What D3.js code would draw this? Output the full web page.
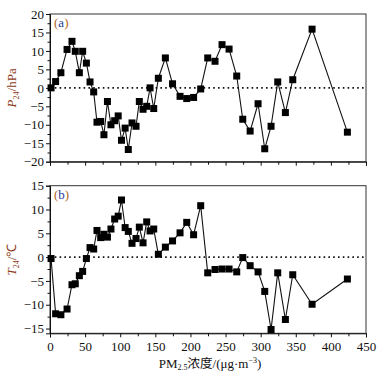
<!DOCTYPE html>
<html><head><meta charset="utf-8">
<script src="https://cdn.jsdelivr.net/npm/d3@7"></script>
<style>
html,body{margin:0;padding:0;background:#fff;}
svg{display:block;}
text{font-family:"Liberation Serif","Times New Roman",serif;}
</style></head>
<body>
<svg id="chart" width="389" height="377"></svg>
<script>
// PM2.5 concentration bins (shared by both panels)
const pm25 = [1.5, 8, 15.5, 24.3, 31.3, 36, 41.8, 46.5, 51.8, 57, 62.2, 66.9, 72.2, 76.8, 81.8, 86.8, 92.1, 97.1, 101.8, 107, 111.5, 116.8, 122.5, 127.2, 132.5, 137.7, 142.5, 147.7, 154.3, 164.3, 174.5, 185.2, 194.7, 204.5, 214.6, 224.6, 235, 245, 255, 265.9, 274.5, 285, 296.3, 305.8, 314.8, 324.3, 335.2, 345.7, 373.2, 423.5];
// Panel (a): P24 / hPa
const p24 = [0, 1.7, 4.1, 10.4, 12.6, 9.9, 4.1, 9.9, 6.7, 1.6, -1.1, -9.3, -9.1, -12.7, -3.7, -10, -8.9, -7.6, -14.2, -10.9, -16.7, -9.5, -10.4, -3.7, -5.8, -5.0, 0, -5.6, 2.6, 8.1, 1.1, -2.3, -2.9, -2.6, -0.3, 8.1, 7.2, 11.7, 10.5, 3.2, -8.5, -11.7, -4.3, -16.5, -10.4, 1.6, -6.7, 2.2, 15.9, -12.0];
// Panel (b): T24 / °C
const t24 = [-0.3, -11.9, -12.1, -10.9, -5.8, -5.6, -3.9, -3.0, -0.3, 2.0, 1.7, 5.6, 4.1, 4.8, 4.2, 5.9, 8.0, 8.6, 12.0, 6.2, 5.4, 2.9, 3.9, 6.3, 3.0, 7.4, 5.5, 5.9, 0.6, 2.1, 3.4, 5.1, 7.3, 4.7, 10.8, -3.3, -2.6, -2.5, -2.5, -3.1, -0.1, -1.8, -3.1, -7.2, -15.2, -3.3, -13.1, -3.7, -9.9, -4.6];
const xTicks = [0, 50, 100, 150, 200, 250, 300, 350, 400, 450];
const pTicks = [-20, -15, -10, -5, 0, 5, 10, 15, 20];
const tTicks = [-15, -10, -5, 0, 5, 10, 15];

const svg = d3.select("#chart");
const L = 50, R = 366;
const x = d3.scaleLinear().domain([0, 450]).range([L, R]);
const minorX = d3.range(0, 451, 25);

function fmt(v){ return v < 0 ? "\u2212" + Math.abs(v) : String(v); }

function panel(cfg){
  const y = d3.scaleLinear().domain(cfg.domain).range([cfg.bottom, cfg.top]);
  const g = svg.append("g");
  // frame
  g.append("rect").attr("x", L).attr("y", cfg.top).attr("width", R - L).attr("height", cfg.bottom - cfg.top)
    .attr("fill", "none").attr("stroke", "#333").attr("stroke-width", 1);
  // y axis major
  const ya = g.append("g").attr("transform", `translate(${L},0)`)
    .call(d3.axisLeft(y).tickValues(cfg.ticks).tickSize(4).tickPadding(2).tickFormat(fmt));
  ya.select(".domain").attr("stroke", "#111");
  ya.selectAll("text").attr("font-size", 13).attr("font-family", "Liberation Serif").attr("fill", "#111");
  ya.selectAll(".tick line").attr("stroke", "#111");
  // y minor
  const minorY = d3.range(cfg.domain[0] < cfg.ticks[0] ? cfg.ticks[0] : cfg.domain[0], cfg.domain[1] + 0.01, 2.5)
    .filter(v => !cfg.ticks.includes(v));
  g.append("g").attr("transform", `translate(${L},0)`)
    .call(d3.axisLeft(y).tickValues(minorY).tickSize(2.5).tickFormat(""))
    .call(s => s.select(".domain").remove())
    .selectAll("line").attr("stroke", "#111");
  // x axis
  const xa = g.append("g").attr("transform", `translate(0,${cfg.bottom})`)
    .call(d3.axisBottom(x).tickValues(xTicks).tickSize(4).tickPadding(4).tickFormat(cfg.xLabels ? d3.format("d") : ""));
  xa.select(".domain").attr("stroke", "#111");
  xa.selectAll("text").attr("font-size", 13).attr("font-family", "Liberation Serif").attr("fill", "#111");
  xa.selectAll(".tick line").attr("stroke", "#111");
  g.append("g").attr("transform", `translate(0,${cfg.bottom})`)
    .call(d3.axisBottom(x).tickValues(minorX.filter(v => !xTicks.includes(v))).tickSize(3).tickFormat(""))
    .call(s => s.select(".domain").remove())
    .selectAll("line").attr("stroke", "#111");
  // zero line
  g.append("line").attr("x1", L).attr("x2", R).attr("y1", y(0)).attr("y2", y(0))
    .attr("stroke", "#111").attr("stroke-width", 1.6).attr("stroke-dasharray", "1.6,3.2");
  // data line
  const data = pm25.map((v, i) => [v, cfg.values[i]]);
  g.append("path").datum(data)
    .attr("d", d3.line().x(d => x(d[0])).y(d => y(d[1])))
    .attr("fill", "none").attr("stroke", "#111").attr("stroke-width", 1.1);
  g.selectAll("rect.pt").data(data).enter().append("rect").attr("class", "pt")
    .attr("x", d => x(d[0]) - 3.5).attr("y", d => y(d[1]) - 3.5)
    .attr("width", 7).attr("height", 7).attr("fill", "#000");
  // panel letter
  const lt = g.append("text").attr("x", L + 4).attr("y", cfg.top + 13).attr("font-size", 13);
  lt.append("tspan").attr("fill", "#b5651d").text("(");
  lt.append("tspan").attr("fill", "#1f3a93").text(cfg.letter);
  lt.append("tspan").attr("fill", "#b5651d").text(")");
  // y label
  const cy = (cfg.top + cfg.bottom) / 2;
  const yl = g.append("text").attr("transform", `translate(16,${cy}) rotate(-90)`)
    .attr("text-anchor", "middle").attr("font-size", 13).attr("fill", "#8b3a1a");
  yl.append("tspan").attr("font-style", "italic").text(cfg.sym);
  yl.append("tspan").attr("font-size", 8).attr("dy", 3).text("24");
  yl.append("tspan").attr("dy", -3).text(cfg.unit);
}

panel({top: 14, bottom: 161.7, domain: [-20, 20], ticks: pTicks, values: p24, letter: "a", sym: "P", unit: "/hPa", xLabels: false});
panel({top: 185.7, bottom: 333.3, domain: [-16, 15], ticks: tTicks, values: t24, letter: "b", sym: "T", unit: "/\u2103", xLabels: true});

// x label
const xl = svg.append("text").attr("x", 210).attr("y", 368).attr("text-anchor", "middle").attr("font-size", 13).attr("fill", "#111");
xl.append("tspan").text("PM");
xl.append("tspan").attr("font-size", 8).attr("dy", 2).text("2.5");
xl.append("tspan").attr("dy", -2).attr("font-family", "Noto Sans CJK SC").attr("font-size", 12.5).text("浓度");
xl.append("tspan").text("/(μg·m");
xl.append("tspan").attr("font-size", 8).attr("dy", -5).text("−3");
xl.append("tspan").attr("dy", 5).text(")");
</script>
</body></html>
